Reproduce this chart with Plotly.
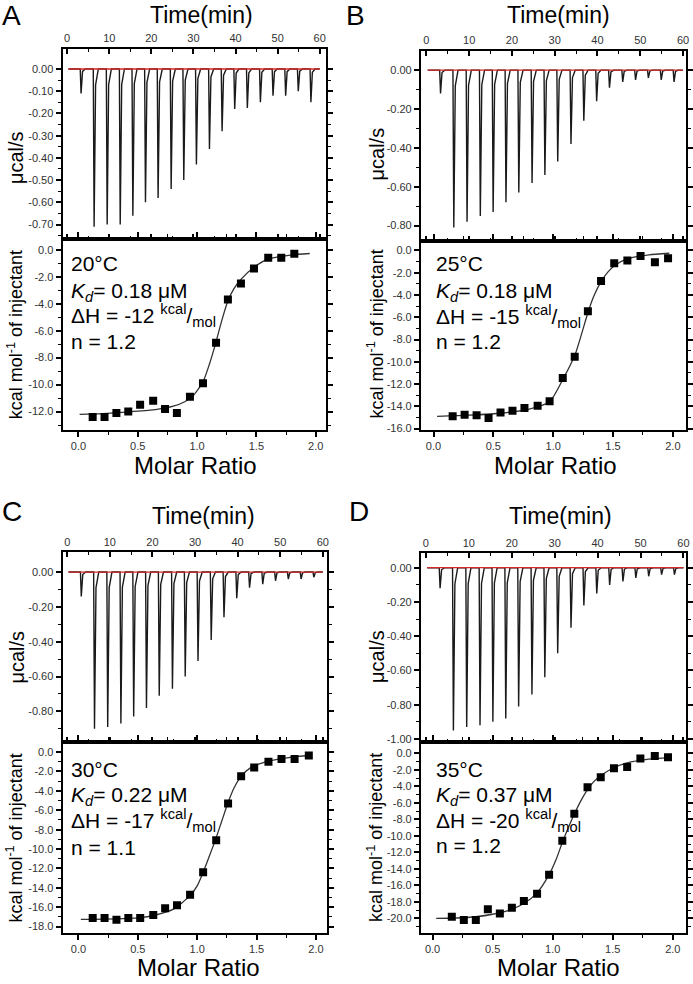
import plotly.graph_objects as go

# ---------------- data ----------------
injection_times = [3.1, 6.2, 9.3, 12.4, 15.4, 18.4, 21.4, 24.5, 27.5, 30.5,
                   33.6, 36.6, 39.6, 42.6, 45.7, 48.7, 51.7, 54.7, 57.7]

peaks_A = [-0.11, -0.71, -0.70, -0.70, -0.66, -0.60, -0.58, -0.54, -0.50, -0.43,
           -0.36, -0.28, -0.18, -0.175, -0.15, -0.12, -0.12, -0.10, -0.15]
peaks_B = [-0.12, -0.81, -0.78, -0.75, -0.73, -0.68, -0.63, -0.58, -0.54, -0.47,
           -0.38, -0.26, -0.16, -0.09, -0.06, -0.05, -0.04, -0.05, -0.06]
peaks_C = [-0.14, -0.90, -0.89, -0.87, -0.83, -0.78, -0.71, -0.67, -0.60, -0.51,
           -0.39, -0.26, -0.15, -0.09, -0.07, -0.05, -0.04, -0.04, -0.03]
peaks_D = [-0.12, -0.95, -0.93, -0.92, -0.90, -0.88, -0.81, -0.74, -0.64, -0.50,
           -0.35, -0.22, -0.15, -0.10, -0.08, -0.06, -0.05, -0.04, -0.04]

ratio_A = [0.12, 0.22, 0.32, 0.42, 0.52, 0.63, 0.73, 0.83, 0.94, 1.05,
           1.16, 1.26, 1.37, 1.48, 1.60, 1.71, 1.82]
ratio_B = [0.16, 0.26, 0.36, 0.46, 0.56, 0.66, 0.76, 0.87, 0.97, 1.08,
           1.18, 1.29, 1.40, 1.51, 1.62, 1.73, 1.85, 1.96]
ratio_C = [0.12, 0.22, 0.32, 0.42, 0.52, 0.63, 0.73, 0.83, 0.94, 1.05,
           1.16, 1.26, 1.37, 1.48, 1.60, 1.71, 1.82, 1.94]
ratio_D = [0.16, 0.26, 0.36, 0.46, 0.56, 0.66, 0.76, 0.87, 0.97, 1.08,
           1.18, 1.29, 1.40, 1.51, 1.62, 1.73, 1.85, 1.96]

heat_A = [-12.4, -12.4, -12.1, -12.0, -11.5, -11.2, -11.8, -12.1, -10.9, -9.9,
          -6.9, -3.7, -2.5, -1.4, -0.6, -0.6, -0.3]
heat_B = [-14.9, -14.75, -14.8, -15.05, -14.55, -14.4, -14.15, -13.95, -13.55, -11.45,
          -9.55, -5.45, -2.75, -1.15, -0.9, -0.5, -1.05, -0.7]
heat_C = [-17.1, -17.1, -17.3, -17.1, -17.1, -16.8, -16.1, -15.8, -14.7, -12.4,
          -9.1, -5.3, -2.5, -1.6, -1.0, -0.7, -0.7, -0.35]
heat_D = [-19.8, -20.2, -20.2, -18.9, -19.4, -18.7, -17.9, -17.0, -14.7, -10.6,
          -7.3, -4.1, -2.9, -1.8, -1.65, -0.6, -0.3, -0.45]

fitA_x = [0.01, 0.2, 0.45, 0.65, 0.8, 0.9, 0.97, 1.05, 1.1, 1.155, 1.21, 1.26, 1.31, 1.37, 1.48, 1.6, 1.8, 1.95]
fitA_y = [-12.2, -12.15, -12.0, -11.85, -11.6, -11.25, -10.8, -9.8, -8.6, -7.0, -5.2, -3.8, -2.9, -2.2, -1.3, -0.7, -0.38, -0.28]
fitB_x = [0.03, 0.3, 0.58, 0.8, 0.97, 1.08, 1.185, 1.24, 1.29, 1.34, 1.40, 1.46, 1.52, 1.62, 1.8, 1.97]
fitB_y = [-14.9, -14.8, -14.6, -14.25, -13.6, -11.6, -9.3, -7.4, -5.6, -4.1, -2.8, -1.9, -1.3, -0.75, -0.4, -0.25]
fitC_x = [0.02, 0.3, 0.5, 0.65, 0.8, 0.94, 1.0, 1.05, 1.1, 1.155, 1.21, 1.26, 1.31, 1.37, 1.45, 1.55, 1.7, 1.85, 1.96]
fitC_y = [-17.25, -17.2, -17.1, -16.8, -16.2, -14.8, -13.8, -12.4, -10.8, -9.0, -7.0, -5.2, -3.7, -2.5, -1.6, -1.1, -0.7, -0.45, -0.35]
fitD_x = [0.03, 0.2, 0.36, 0.5, 0.64, 0.76, 0.87, 0.97, 1.03, 1.08, 1.13, 1.185, 1.24, 1.29, 1.35, 1.4, 1.5, 1.62, 1.8, 1.97]
fitD_y = [-20.0, -19.95, -19.8, -19.5, -19.0, -18.2, -16.9, -14.7, -12.8, -10.8, -9.0, -7.2, -5.6, -4.4, -3.3, -2.7, -1.8, -1.15, -0.7, -0.5]

labels = ["A", "B", "C", "D"]
temps = ["20°C", "25°C", "30°C", "35°C"]
kd_values = ["0.18", "0.18", "0.22", "0.37"]
dh_values = ["-12", "-15", "-17", "-20"]
n_values = ["1.2", "1.2", "1.1", "1.2"]
time_ticks = [0, 10, 20, 30, 40, 50, 60]
ratio_ticks = [0.0, 0.5, 1.0, 1.5, 2.0]

# ---------------- layout geometry (pixels) ----------------
W, H = 693, 984
FONT = "Liberation Sans, Arial, Helvetica, sans-serif"

panels = [
    dict(peaks=peaks_A, ratio=ratio_A, heat=heat_A, fx=fitA_x, fy=fitA_y,
         box=(63, 328, 49, 240, 432), trange=(-1.1, 61.4), prange=(-0.764, 0.091),
         pstep=0.10, pmin=-0.70, rrange=(-0.134, 2.084), hrange=(-13.35, 0.81), hmin=-12,
         letter=(12, 16), ttl=(203, 15), mr=(197, 468), ylab1=(16, 158), ylab2=(15, 336),
         txt=(69, [265, 293, 317, 343])),
    dict(peaks=peaks_B, ratio=ratio_B, heat=heat_B, fx=fitB_x, fy=fitB_y,
         box=(424, 691, 51, 242, 432), trange=(-1.28, 60.7), prange=(-0.878, 0.10),
         pstep=0.20, pmin=-0.80, rrange=(-0.105, 2.11), hrange=(-16.11, 0.87), hmin=-16,
         letter=(358, 16), ttl=(563, 15), mr=(560, 468), ylab1=(380, 155), ylab2=(378, 336),
         txt=(437, [265, 293, 318, 343])),
    dict(peaks=peaks_C, ratio=ratio_C, heat=heat_C, fx=fitC_x, fy=fitC_y,
         box=(63, 329, 555, 746, 938), trange=(-1.1, 60.9), prange=(-0.977, 0.114),
         pstep=0.20, pmin=-0.80, rrange=(-0.134, 2.09), hrange=(-18.68, 1.02), hmin=-18,
         letter=(12, 514), ttl=(205, 519), mr=(200, 972), ylab1=(17, 660), ylab2=(15, 842),
         txt=(69, [773, 800, 825, 852])),
    dict(peaks=peaks_D, ratio=ratio_D, heat=heat_D, fx=fitD_x, fy=fitD_y,
         box=(424, 691, 556, 746, 938), trange=(-1.16, 60.6), prange=(-1.019, 0.085),
         pstep=0.20, pmin=-1.00, rrange=(-0.097, 2.11), hrange=(-21.8, 1.36), hmin=-20,
         letter=(362, 514), ttl=(565, 519), mr=(563, 972), ylab1=(379, 660), ylab2=(378, 842),
         txt=(437, [773, 800, 825, 850])),
]

fig = go.Figure()
layout = dict(width=W, height=H, margin=dict(l=0, r=0, t=0, b=0), autosize=False,
              paper_bgcolor="white", plot_bgcolor="white", showlegend=False,
              font=dict(family=FONT, color="#222"))
annotations = []

def fx(p):
    return p / W

def fy(p):
    return 1 - p / H

def frange(a, b, step):
    vals = []
    k = 0
    while True:
        v = round(a + k * step, 6)
        if (step > 0 and v > b + 1e-9) or (step < 0 and v < b - 1e-9):
            break
        vals.append(v)
        k += 1
    return vals

axis_common = dict(showgrid=False, zeroline=False, showline=True, linewidth=2,
                   linecolor="black", tickcolor="black", tickwidth=1.5,
                   ticklabeloverflow="allow",
                   tickfont=dict(size=11, color="#333", family=FONT))

for i, p in enumerate(panels):
    L, R, T, M, B = p["box"]
    kt = 2 * i + 1
    kb = 2 * i + 2
    xt, yt, xb, yb = f"x{kt}", f"y{kt}", f"x{kb}", f"y{kb}"

    # raw thermogram trace built from injection times and peak heights
    tx, ty = [0.3], [0.0]
    for t, pk in zip(injection_times, p["peaks"]):
        tx += [t, t + 0.2, t + 0.55, t + 1.2]
        ty += [0.0, pk, 0.1 * pk, 0.0]
    tx.append(60.0)
    ty.append(0.0)
    fig.add_trace(go.Scatter(x=tx, y=ty, mode="lines", xaxis=xt, yaxis=yt,
                             line=dict(color="#1a1a1a", width=1.4), hoverinfo="skip"))
    fig.add_trace(go.Scatter(x=[0.3, 60.0], y=[0.0, 0.0], mode="lines", xaxis=xt, yaxis=yt,
                             line=dict(color="#d42a2a", width=1.3), hoverinfo="skip"))

    # isotherm
    fig.add_trace(go.Scatter(x=p["fx"], y=p["fy"], mode="lines", xaxis=xb, yaxis=yb,
                             line=dict(color="#333", width=1.3, shape="spline", smoothing=0.6),
                             hoverinfo="skip"))
    fig.add_trace(go.Scatter(x=p["ratio"], y=p["heat"], mode="markers", xaxis=xb, yaxis=yb,
                             marker=dict(symbol="square", size=8, color="black")))

    ptv = frange(0.0, p["pmin"], -p["pstep"])
    htv = frange(0.0, p["hmin"], -2.0)

    layout[f"xaxis{kt}"] = dict(axis_common, domain=[fx(L), fx(R)], anchor=yt, side="top",
                                range=list(p["trange"]), tickmode="array", tickvals=time_ticks,
                                ticktext=[str(v) for v in time_ticks], ticks="inside", ticklen=5,
                                mirror="allticks",
                                minor=dict(tickvals=[5, 15, 25, 35, 45, 55], ticks="inside",
                                           ticklen=3, tickcolor="black", tickwidth=1.2))
    layout[f"yaxis{kt}"] = dict(axis_common, domain=[fy(M), fy(T)], anchor=xt,
                                range=list(p["prange"]), tickmode="array", tickvals=ptv,
                                ticktext=[f"{v:.2f}" for v in ptv], ticks="outside", ticklen=5,
                                mirror="allticks",
                                minor=dict(tickvals=[round(v - p["pstep"] / 2, 4) for v in ptv],
                                           ticks="outside", ticklen=3, tickcolor="black", tickwidth=1.2))
    layout[f"xaxis{kb}"] = dict(axis_common, domain=[fx(L), fx(R)], anchor=yb,
                                range=list(p["rrange"]), tickmode="array", tickvals=ratio_ticks,
                                ticktext=[f"{v:.1f}" for v in ratio_ticks], ticks="outside", ticklen=5,
                                mirror="allticks",
                                minor=dict(tickvals=[0.25, 0.75, 1.25, 1.75], ticks="outside",
                                           ticklen=3, tickcolor="black", tickwidth=1.2))
    layout[f"yaxis{kb}"] = dict(axis_common, domain=[fy(B), fy(M)], anchor=xb,
                                range=list(p["hrange"]), tickmode="array", tickvals=htv,
                                ticktext=[f"{v:.1f}" for v in htv], ticks="outside", ticklen=5,
                                mirror="allticks",
                                minor=dict(tickvals=[v - 1.0 for v in htv], ticks="outside",
                                           ticklen=3, tickcolor="black", tickwidth=1.2))

    def ann(text, xy, size, angle=0, xanchor="center"):
        annotations.append(dict(text=text, x=fx(xy[0]), y=fy(xy[1]), xref="paper", yref="paper",
                                showarrow=False, xanchor=xanchor, yanchor="middle",
                                textangle=angle, font=dict(size=size, color="black", family=FONT)))

    ann(labels[i], p["letter"], 28)
    ann("Time(min)", p["ttl"], 23)
    ann("Molar Ratio", p["mr"], 24)
    ann("μcal/s", p["ylab1"], 20, angle=-90)
    ann("kcal mol<sup>-1</sup> of injectant", p["ylab2"], 18, angle=-90)
    tx0, tys = p["txt"]
    ann(temps[i], (tx0, tys[0]), 21, xanchor="left")
    ann(f"<i>K</i><sub><i>d</i></sub>= {kd_values[i]} μM", (tx0, tys[1]), 21, xanchor="left")
    ann(f"ΔH = {dh_values[i]} <sup>kcal</sup>/<sub>mol</sub>", (tx0, tys[2]), 21, xanchor="left")
    ann(f"n = {n_values[i]}", (tx0, tys[3]), 21, xanchor="left")

layout["annotations"] = annotations
fig.update_layout(**layout)
fig.write_html("out.html", config={"displayModeBar": False},
               post_script="document.body.style.margin='0';document.body.style.overflow='hidden';")
